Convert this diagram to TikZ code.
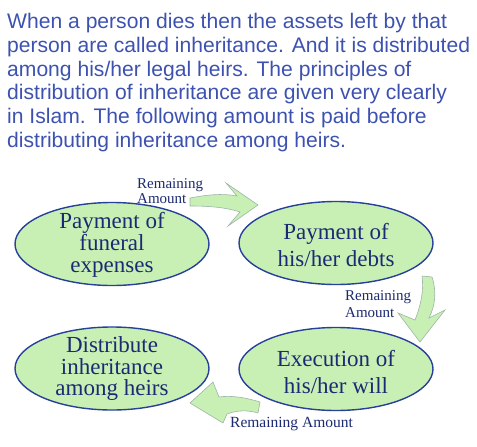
\documentclass[tikz,border=0pt]{standalone}
\usepackage{fontspec}
\setmainfont{Liberation Serif}
\newfontfamily\parafont{Liberation Sans}
\usepackage{xcolor}
\usepackage{tikz}
\usetikzlibrary{shapes.geometric}
\definecolor{heirblue}{HTML}{3D52B0}
\definecolor{heirnavy}{HTML}{27409A}
\definecolor{heirink}{HTML}{1B2A72}
\definecolor{heirgreen}{HTML}{C8F0B4}
\definecolor{heirgray}{HTML}{9DB4A8}

\begin{document}
\begin{tikzpicture}[
    x=1pt,y=-1pt,
    para/.style   = {align=left,text=heirblue,inner sep=0pt,anchor=north west,
                     font=\parafont\fontsize{21.1}{23.8}\selectfont},
    etape/.style  = {ellipse,draw=heirnavy,fill=heirgreen,line width=1.4pt,
                     minimum width=194pt,minimum height=83pt,inner sep=0pt},
    etxt/.style   = {align=center,text=heirink,inner sep=0pt},
    fleche/.style = {fill=heirgreen,draw=heirgray,line width=0.6pt,line join=miter},
    lab/.style    = {align=left,text=heirink,inner sep=0pt},
  ]
  \useasboundingbox (0,0) rectangle (477,447);

  % ── Texte d'introduction ────────────────────────────────────────────────
  \node[para] (intro) at (7,13) {When a person dies then the assets left by that\\
    person are called inheritance. And it is distributed\\
    among his/her legal heirs. The principles of\\
    distribution of inheritance are given very clearly\\
    in Islam. The following amount is paid before\\
    distributing inheritance among heirs.};

  % ── Étapes ──────────────────────────────────────────────────────────────
  \node[etape] (e1) at (112,244) {};
  \node[etape] (e2) at (336,243) {};
  \node[etape] (e3) at (336,369) {};
  \node[etape] (e4) at (112,368.5) {};
  \node[etxt,font=\fontsize{23}{22}\selectfont] (t1) at (112,244.5) {Payment of\\funeral\\expenses};
  \node[etxt,font=\fontsize{23}{27}\selectfont] (t2) at (336,245) {Payment of\\his/her debts};
  \node[etxt,font=\fontsize{23}{27}\selectfont] (t3) at (336,372) {Execution of\\his/her will};
  \node[etxt,font=\fontsize{23}{21.5}\selectfont] (t4) at (112,368.5) {Distribute\\inheritance\\among heirs};

  % ── Flèches ─────────────────────────────────────────────────────────────
  \filldraw[fleche] (190,198) .. controls (206,195) and (222,193) .. (237,196)
    -- (226,183) -- (258,205) -- (228,226) -- (240,212)
    .. controls (225,207) and (207,206) .. (190,206) -- cycle;
  \filldraw[fleche] (422,276) -- (432,277) .. controls (437,292) and (435,306) .. (429,318)
    -- (445,310) -- (420,342) -- (398,313) -- (415,320)
    .. controls (421,305) and (424,290) .. (422,276) -- cycle;
  \filldraw[fleche] (260,402) -- (258,413) .. controls (248,410) and (237,410) .. (227,414)
    -- (223,423) -- (190,403) -- (213,382) -- (219,397)
    .. controls (232,395) and (247,398) .. (260,402) -- cycle;

  % ── Étiquettes ──────────────────────────────────────────────────────────
  \node[lab,anchor=north west,font=\fontsize{15}{11.7}\selectfont] (r1) at (137,178.8) {Remaining\\Amount};
  \node[lab,anchor=north west,font=\fontsize{15}{16.5}\selectfont] (r2) at (345,290.8) {Remaining\\Amount};
  \node[lab,anchor=base west,font=\fontsize{15.5}{16}\selectfont] (r3) at (230,427) {Remaining Amount};

\end{tikzpicture}
\end{document}
